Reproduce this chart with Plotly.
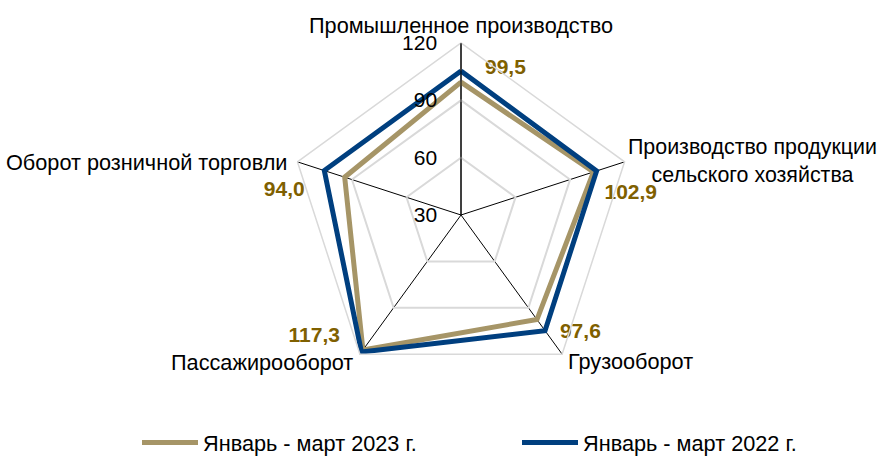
import plotly.graph_objects as go

categories = [
    "Промышленное производство",
    "Производство продукции<br>сельского хозяйства",
    "Грузооборот",
    "Пассажирооборот",
    "Оборот розничной торговли",
]
values_2023 = [99.5, 102.9, 97.6, 117.3, 94.0]
values_2022 = [105.3, 104.6, 104.8, 118.6, 105.2]
series_names = ["Январь - март 2023 г.", "Январь - март 2022 г."]
radial_ticks = [30, 60, 90, 120]

TAN = "#A69567"
BLUE = "#003F7F"
LABEL = "#7F6000"
FONT = "Liberation Sans, Arial, sans-serif"
FS = 21.7
W, H = 882, 461

# data-label placement per vertex (text position, blank line before/after, offset)
label_pos = ["middle right", "bottom right", "middle right", "middle left", "middle left"]
label_pad = ["after", "none", "before", "after", "before"]
label_off = [24, 11, 23, 23, 40]

# category label layout (pixel anchor x, pixel centre y, x anchor)
cat_x = [461, 626, 566, 355, 289]
cat_y = [25, 161, 361, 362, 162]
cat_anchor = ["center", "left", "left", "right", "right"]
cat_size = [FS, 21.4, FS, FS, FS]

def fmt(v):
    return f"{v:.1f}".replace(".", ",")

texts = []
for v, pad in zip(values_2023, label_pad):
    t = fmt(v)
    if pad == "after":
        t = t + "<br> "
    elif pad == "before":
        t = " <br>" + t
    texts.append(t)
marker_sizes = [1.6 * (o - 1) for o in label_off]

theta = categories + [categories[0]]

fig = go.Figure()
fig.add_trace(go.Scatterpolar(
    r=values_2023 + [values_2023[0]], theta=theta,
    mode="lines+markers+text",
    name=series_names[0],
    line=dict(color=TAN, width=5),
    marker=dict(size=marker_sizes + [0], color="rgba(0,0,0,0)", line=dict(width=0)),
    text=texts + [""],
    textposition=label_pos + ["middle right"],
    textfont=dict(family=FONT, size=21, color=LABEL, weight="bold"),
    cliponaxis=False,
))
fig.add_trace(go.Scatterpolar(
    r=values_2022 + [values_2022[0]], theta=theta,
    mode="lines",
    name=series_names[1],
    line=dict(color=BLUE, width=5),
    cliponaxis=False,
))

annotations = [
    dict(text=c, x=x / W, y=1 - y / H, xref="paper", yref="paper",
         xanchor=a, yanchor="middle", align="center", showarrow=False,
         font=dict(family=FONT, size=s, color="#000000"))
    for c, x, y, a, s in zip(categories, cat_x, cat_y, cat_anchor, cat_size)
]

fig.update_layout(
    width=W, height=H,
    margin=dict(l=0, r=0, t=0, b=0, autoexpand=False),
    paper_bgcolor="white",
    font=dict(family=FONT, size=FS, color="#000000"),
    polar=dict(
        domain=dict(x=[(461 - 172) / W, (461 + 172) / W],
                    y=[(246 - 172) / H, (246 + 172) / H]),
        bgcolor="white",
        gridshape="linear",
        radialaxis=dict(
            range=[30, 120], tickvals=radial_ticks, angle=90, tickangle=90,
            side="counterclockwise",
            showline=True, linecolor="#000000", linewidth=1,
            gridcolor="#D9D9D9", gridwidth=1.5,
            ticks="outside", ticklen=16, tickcolor="rgba(0,0,0,0)",
            tickfont=dict(family=FONT, size=21, color="#000000"),
        ),
        angularaxis=dict(
            direction="clockwise", rotation=90,
            showline=True, linecolor="#D9D9D9", linewidth=1.5,
            gridcolor="#000000", gridwidth=1,
            ticks="", showticklabels=False,
        ),
    ),
    annotations=annotations,
    legend=dict(
        orientation="h", x=137 / W, xanchor="left", y=-3 / H, yanchor="bottom",
        font=dict(family=FONT, size=FS, color="#000000"),
        itemwidth=56, entrywidth=309,
    ),
    showlegend=True,
)

fig.write_html("out.html", config={"displayModeBar": False},
               post_script="document.body.style.margin='0';")
